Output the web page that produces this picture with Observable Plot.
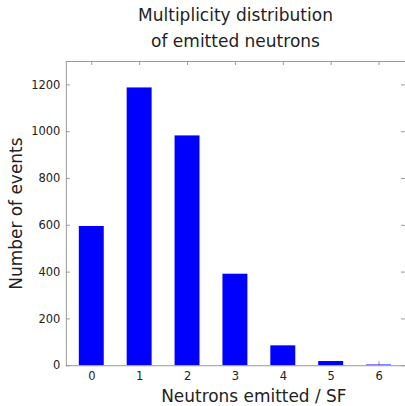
<!DOCTYPE html>
<html><head><meta charset="utf-8">
<script src="https://cdn.jsdelivr.net/npm/d3@7"></script>
<script src="https://cdn.jsdelivr.net/npm/@observablehq/plot@0.6"></script>
<style>
html,body{margin:0;padding:0;background:#fff;overflow:hidden;font-family:"DejaVu Sans",sans-serif;}
#title{width:405px;height:55px;box-sizing:border-box;padding:2px 0 0 66px;text-align:center;font-size:17px;line-height:26px;color:#222;}
#chart svg{display:block;}
</style></head><body>
<div id="title">Multiplicity distribution<br>of emitted neutrons</div>
<div id="chart"></div>
<script>
const neutrons = [0, 1, 2, 3, 4, 5, 6];
const events = [595, 1187, 982, 391, 85, 18, 3];
const yTicks = [0, 200, 400, 600, 800, 1000, 1200];
const xLabel = "Neutrons emitted / SF";
const yLabel = "Number of events";

const data = neutrons.map((n, i) => ({n, count: events[i]}));
const W = 406, H = 351, mt = 6, mb = 40, ml = 66, mr = 0;
const fw = W - ml - mr, fh = H - mt - mb;
const axisColor = "#999";

const chart = Plot.plot({
  width: W, height: H,
  marginTop: mt, marginBottom: mb, marginLeft: ml, marginRight: mr,
  style: {fontFamily: "DejaVu Sans", fontSize: "11.5px", color: "#222", background: "white"},
  x: {type: "band", domain: neutrons, paddingInner: 0.47, paddingOuter: 0.235},
  y: {domain: [0, 1300]},
  marks: [
    Plot.tickY(yTicks, {y: d => d, stroke: axisColor, insetRight: fw - 4}),
    Plot.tickY(yTicks, {y: d => d, stroke: axisColor, insetLeft: fw - 4}),
    Plot.tickX(neutrons, {x: d => d, stroke: axisColor, insetTop: fh - 4}),
    Plot.tickX(neutrons, {x: d => d, stroke: axisColor, insetBottom: fh - 4}),
    Plot.barY(data, {x: "n", y: "count", fill: "#0000ff"}),
    Plot.frame({stroke: axisColor}),
    Plot.axisX({tickSize: 0, tickPadding: 6, label: null}),
    Plot.axisY({ticks: yTicks, tickFormat: d => String(d), tickSize: 0, tickPadding: 6, label: null}),
    Plot.text([yLabel], {text: d => d, frameAnchor: "left", textAnchor: "middle", lineAnchor: "middle", rotate: -90, dx: -49.5, fontSize: 17, fill: "#222"}),
    Plot.text([xLabel], {text: d => d, frameAnchor: "bottom", textAnchor: "middle", lineAnchor: "middle", dy: 31, dx: 18, fontSize: 17, fill: "#222"})
  ]
});
document.getElementById("chart").appendChild(chart);
</script>
</body></html>
